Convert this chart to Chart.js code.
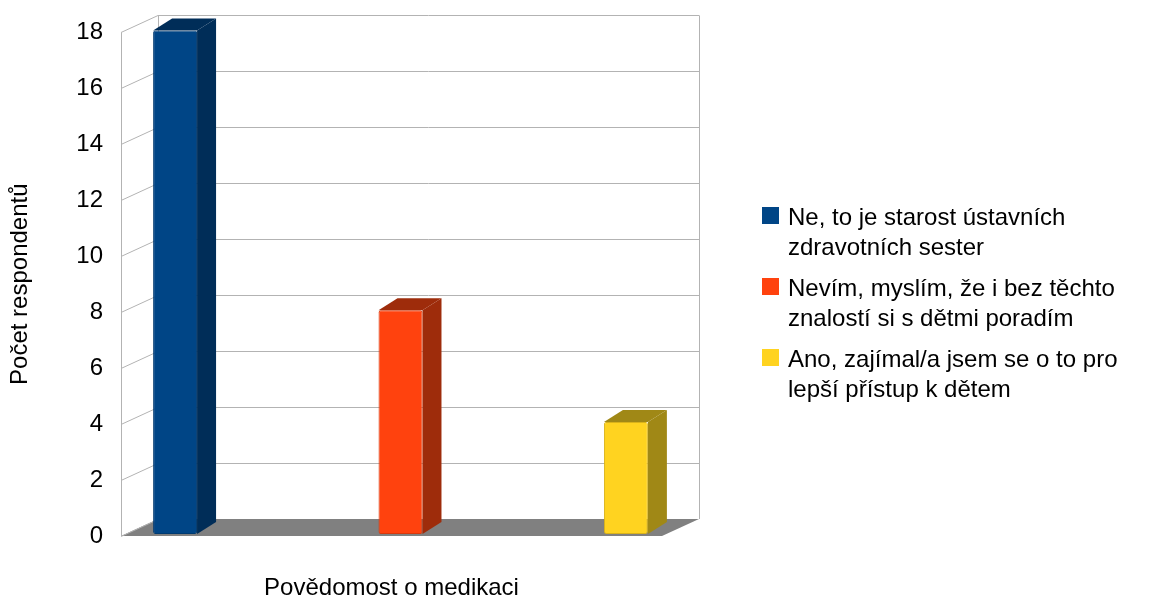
<!DOCTYPE html>
<html>
<head>
<meta charset="utf-8">
<script src="https://cdn.jsdelivr.net/npm/chart.js@4/dist/chart.umd.min.js"></script>
<style>
  html, body { margin: 0; padding: 0; background: #fff; }
  #wrap { width: 1152px; height: 600px; position: relative; }
</style>
</head>
<body>
<div id="wrap"><canvas id="chart"></canvas></div>
<script>
const categories = ['Povědomost o medikaci'];
const seriesNames = [
    ['Ne, to je starost ústavních', 'zdravotních sester'],
    ['Nevím, myslím, že i bez těchto', 'znalostí si s dětmi poradím'],
    ['Ano, zajímal/a jsem se o to pro', 'lepší přístup k dětem']
];
const seriesValues = [[18], [8], [4]];
const frontColors = ['#004586', '#ff420e', '#ffd320'];
const edgeColors = ['#003a70', '#d8380c', '#d9b21a'];
const sideColors = ['#002d58', '#9e2c0b', '#a08816'];

const fontFamily = '"Liberation Sans", Arial, sans-serif';
Chart.defaults.font.family = fontFamily;
Chart.defaults.font.size = 24;
Chart.defaults.color = '#000';

// depth of the box (back wall offset) and of a single bar
const wallDX = 37, wallDY = -17;
const barDX = 19, barDY = -12;
const barShiftX = 9, barShiftY = -2;

const box3d = {
    id: 'box3d',
    beforeDatasetsDraw(chart) {
        const ctx = chart.ctx;
        const a = chart.chartArea;
        const y = chart.scales.y;
        const y0 = y.getPixelForValue(0);
        const yTop = y.getPixelForValue(y.max);

        ctx.save();
        // back wall + left wall
        ctx.fillStyle = '#fff';
        ctx.fillRect(a.left + wallDX, yTop + wallDY, a.right - a.left, y0 - yTop);
        // floor
        ctx.fillStyle = '#808080';
        ctx.beginPath();
        ctx.moveTo(a.left, y0);
        ctx.lineTo(a.left + wallDX, y0 + wallDY);
        ctx.lineTo(a.right + wallDX, y0 + wallDY);
        ctx.lineTo(a.right, y0);
        ctx.closePath();
        ctx.fill();

        // grid lines on left and back walls
        ctx.strokeStyle = '#b3b3b3';
        ctx.lineWidth = 1;
        y.ticks.forEach(t => {
            const py = Math.round(y.getPixelForValue(t.value)) + 0.5;
            ctx.beginPath();
            ctx.moveTo(a.left, py);
            ctx.lineTo(a.left + wallDX, py + wallDY);
            if (t.value !== 0) ctx.lineTo(a.right + wallDX, py + wallDY);
            ctx.stroke();
        });
        // wall edges
        const lx = Math.round(a.left) + 0.5, bx = Math.round(a.left + wallDX) + 0.5, rx = Math.round(a.right + wallDX) + 0.5;
        ctx.beginPath();
        ctx.moveTo(lx, y0);
        ctx.lineTo(lx, yTop);
        ctx.moveTo(bx, y0 + wallDY);
        ctx.lineTo(bx, yTop + wallDY);
        ctx.moveTo(rx, y0 + wallDY);
        ctx.lineTo(rx, yTop + wallDY);
        ctx.stroke();
        ctx.restore();

        // bars stand a little inside the box
        ctx.save();
        ctx.translate(barShiftX, barShiftY);
        chart.data.datasets.forEach((ds, i) => {
            const meta = chart.getDatasetMeta(i);
            meta.data.forEach(bar => {
                const p = bar.getProps(['x', 'y', 'base', 'width'], true);
                const l = p.x - p.width / 2, r = p.x + p.width / 2;
                ctx.fillStyle = sideColors[i];
                ctx.beginPath();
                ctx.moveTo(r, p.y);
                ctx.lineTo(r + barDX, p.y + barDY);
                ctx.lineTo(r + barDX, p.base + barDY);
                ctx.lineTo(r, p.base);
                ctx.closePath();
                ctx.fill();
                ctx.beginPath();
                ctx.moveTo(l, p.y);
                ctx.lineTo(l + barDX, p.y + barDY);
                ctx.lineTo(r + barDX, p.y + barDY);
                ctx.lineTo(r, p.y);
                ctx.closePath();
                ctx.fill();
            });
        });
    },
    afterDatasetsDraw(chart) {
        chart.ctx.restore();
    },
    afterDraw(chart) {
        // legend with wrapped labels
        const ctx = chart.ctx;
        ctx.save();
        ctx.font = '24px ' + fontFamily;
        ctx.textBaseline = 'alphabetic';
        ctx.textAlign = 'left';
        chart.data.datasets.forEach((ds, i) => {
            const base = 225 + i * 71;
            ctx.fillStyle = frontColors[i];
            ctx.fillRect(762, base - 18, 17, 17);
            ctx.fillStyle = '#000';
            ds.label.forEach((line, j) => ctx.fillText(line, 788, base + j * 30));
        });
        ctx.restore();
    }
};

new Chart(document.getElementById('chart'), {
    type: 'bar',
    data: {
        labels: categories,
        datasets: seriesNames.map((name, i) => ({
            label: name,
            data: seriesValues[i],
            backgroundColor: frontColors[i],
            borderColor: edgeColors[i],
            borderWidth: 1,
            borderRadius: 2,
            borderSkipped: false,
            categoryPercentage: 1.25,
            barPercentage: 0.195
        }))
    },
    options: {
        responsive: true,
        maintainAspectRatio: false,
        animation: false,
        layout: { padding: { left: 0, top: 30, right: 490, bottom: 0 } },
        plugins: {
            legend: { display: false },
            tooltip: { enabled: false }
        },
        scales: {
            x: {
                grid: { display: false },
                border: { display: false },
                ticks: { padding: 30 },
                afterFit(scale) { scale.height = 64; }
            },
            y: {
                min: 0,
                max: 18,
                grid: { display: false, drawTicks: false },
                border: { display: false },
                ticks: { stepSize: 2, padding: 18 },
                title: {
                    display: true,
                    text: 'Počet respondentů',
                    padding: { top: 6, bottom: 0 }
                },
                afterFit(scale) { scale.width = 121; }
            }
        }
    },
    plugins: [box3d]
});
</script>
</body>
</html>
